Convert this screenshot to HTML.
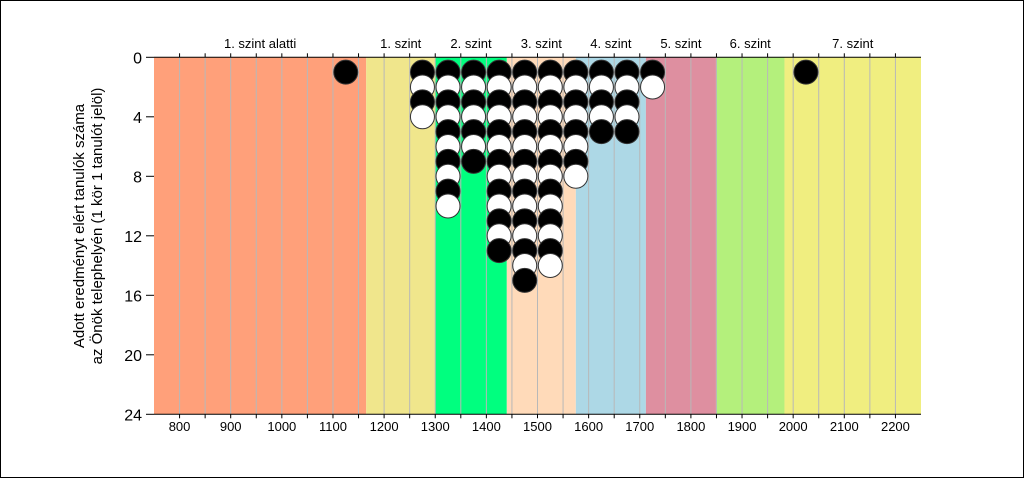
<!DOCTYPE html>
<html><head><meta charset="utf-8"><style>
html,body{margin:0;padding:0;background:#fff}
svg{display:block;font-family:"Liberation Sans",sans-serif}
</style></head><body>
<svg id="chart" width="1024" height="478" viewBox="0 0 1024 478" xmlns="http://www.w3.org/2000/svg">
<rect x="0.5" y="0.5" width="1023" height="477" fill="#fff" stroke="#000"/>
<g id="bands"></g><g id="grid"></g><g id="axes"></g><g id="dots"></g>
<g font-size="15" fill="#000" text-anchor="middle">
<text transform="translate(84,226) rotate(-90)">Adott eredményt elért tanulók száma</text>
<text transform="translate(102,226) rotate(-90)">az Önök telephelyén (1 kör 1 tanulót jelöl)</text>
</g>
</svg>
<script>
const bandStarts=[750,1165,1300,1440,1575,1712,1849,1983];
const bandEnds=[1165,1300,1440,1575,1712,1849,1983,2250];
const bandColors=["#FFA07A","#F0E68C","#00FF7F","#FFDAB9","#ADD8E6","#DE8FA0","#B4F07C","#F0EE80"];
const levelLabels=["1. szint alatti","1. szint","2. szint","3. szint","4. szint","5. szint","6. szint","7. szint"];
const xTicks=[800,900,1000,1100,1200,1300,1400,1500,1600,1700,1800,1900,2000,2100,2200];
const yTicks=[0,4,8,12,16,20,24];
const colX=[1125,1275,1325,1375,1425,1475,1525,1575,1625,1675,1725,2025];
const colCounts=[1,4,10,7,13,15,14,8,5,5,2,1];
const NS="http://www.w3.org/2000/svg";
const X0=154,X1=921,Y0=57.3,Y1=414.3;
const xs=v=>X0+(v-750)/(2250-750)*(X1-X0);
const ys=v=>Y0+v/24*(Y1-Y0);
function mk(tag,attrs,parent){const e=document.createElementNS(NS,tag);for(const k in attrs)e.setAttribute(k,attrs[k]);document.getElementById(parent).appendChild(e);return e;}
bandStarts.forEach((s,i)=>{
 const r=mk('rect',{x:xs(s),y:Y0,width:xs(bandEnds[i])-xs(s),height:Y1-Y0,fill:bandColors[i]},'bands');
 
 
 const t=mk('text',{x:(xs(s)+xs(bandEnds[i]))/2,y:48,'font-size':13,'text-anchor':'middle'},'axes');
 t.textContent=levelLabels[i];
 
 
});
for(let v=800;v<2250;v+=50){
 const l=mk('line',{x1:xs(v),x2:xs(v),y1:Y0,y2:Y1,stroke:'#b8b8b8','stroke-width':1},'grid');
 
 
 mk('line',{x1:xs(v),x2:xs(v),y1:Y1,y2:Y1+4,stroke:'#000'},'axes');
 mk('line',{x1:xs(v),x2:xs(v),y1:Y0,y2:Y0-4,stroke:'#000'},'axes');
}
mk('line',{x1:X0,x2:X1,y1:Y1,y2:Y1,stroke:'#000'},'axes');
mk('line',{x1:X0,x2:X1,y1:Y0,y2:Y0,stroke:'#000'},'axes');
xTicks.forEach(v=>{
 const t=mk('text',{x:xs(v),y:431,'font-size':13,'text-anchor':'middle'},'axes');
 t.textContent=v;
 
 
});
yTicks.forEach(v=>{
 mk('line',{x1:X0-8,x2:X0,y1:ys(v),y2:ys(v),stroke:'#000'},'axes');
 const t=mk('text',{x:X0-12,y:ys(v)+6,'font-size':16,'text-anchor':'end'},'axes');
 t.textContent=v;
 
 
});
colX.forEach((x,i)=>{
 for(let k=1;k<=colCounts[i];k++){
  const c=mk('circle',{cx:xs(x),cy:ys(k),r:12,fill:k%2?'#000':'#fff',stroke:'#333','stroke-width':1},'dots');
  
  
 }
});
</script>
</body></html>
